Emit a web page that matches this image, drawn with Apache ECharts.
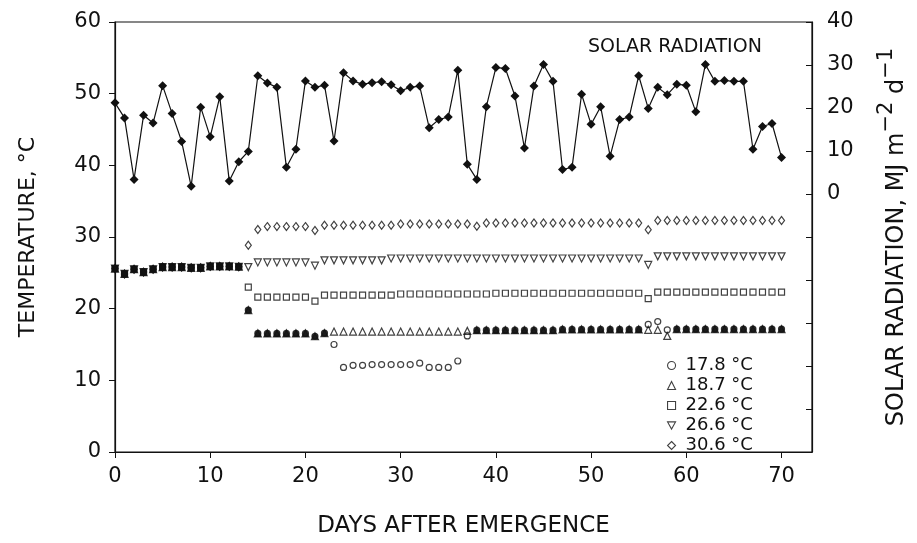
<!DOCTYPE html>
<html>
<head>
<meta charset="utf-8">
<script src="https://cdn.jsdelivr.net/npm/echarts@6/dist/echarts.min.js"></script>
<style>
  html, body { margin: 0; padding: 0; background: #fff; }
  #chart { width: 917px; height: 543px; }
</style>
</head>
<body>
<div id="chart"></div>
<script>
// Days after emergence, 0..70
const days = Array.from({ length: 71 }, (_, i) => i);

// Daily solar radiation, MJ m-2 d-1
const solar = [
  21.2, 17.7, 3.4, 18.3, 16.5, 25.2, 18.7, 12.2, 1.8, 20.2,
  13.3, 22.6, 3.0, 7.5, 9.9, 27.5, 25.8, 24.8, 6.2, 10.4,
  26.3, 24.8, 25.3, 12.3, 28.2, 26.3, 25.5, 25.9, 26.1, 25.4,
  24.0, 24.8, 25.1, 15.4, 17.3, 17.9, 28.8, 6.9, 3.4, 20.3,
  29.4, 29.2, 22.8, 10.7, 25.1, 30.1, 26.2, 5.7, 6.2, 23.2,
  16.2, 20.3, 8.8, 17.3, 17.9, 27.5, 19.9, 24.8, 23.1, 25.5,
  25.3, 19.1, 30.1, 26.2, 26.4, 26.2, 26.2, 10.4, 15.7, 16.4,
  8.5
];

// Common chamber temperature before treatments began (days 0-13)
const common = [25.6, 24.85, 25.5, 25.1, 25.5, 25.8, 25.8, 25.8, 25.7, 25.7, 25.9, 25.9, 25.9, 25.85];

// Daily mean temperature in each treatment, days 14..70
const t178 = [
  19.8, 16.55, 16.55, 16.55, 16.55, 16.55, 16.55, 16.15, 16.6, 15.0,
  11.8, 12.1, 12.1, 12.2, 12.2, 12.2, 12.2, 12.2, 12.4, 11.8,
  11.8, 11.8, 12.7, 16.2, 17.0, 17.0, 17.0, 17.0, 17.0, 17.0,
  17.0, 17.0, 17.0, 17.1, 17.1, 17.1, 17.1, 17.1, 17.1, 17.1,
  17.1, 17.1, 17.8, 18.2, 17.05, 17.15, 17.15, 17.15, 17.15, 17.15,
  17.15, 17.15, 17.15, 17.15, 17.15, 17.15, 17.15
];
const t187 = [
  19.8, 16.55, 16.55, 16.55, 16.55, 16.55, 16.55, 16.15, 16.6, 16.8,
  16.8, 16.8, 16.8, 16.8, 16.8, 16.8, 16.8, 16.8, 16.8, 16.8,
  16.8, 16.8, 16.8, 16.9, 17.0, 17.0, 17.0, 17.0, 17.0, 17.0,
  17.0, 17.0, 17.0, 17.1, 17.1, 17.1, 17.1, 17.1, 17.1, 17.1,
  17.1, 17.1, 17.05, 17.05, 16.2, 17.15, 17.15, 17.15, 17.15, 17.15,
  17.15, 17.15, 17.15, 17.15, 17.15, 17.15, 17.15
];
const t226 = [
  23.0, 21.6, 21.6, 21.6, 21.6, 21.6, 21.6, 21.05, 21.9, 21.9,
  21.9, 21.9, 21.9, 21.9, 21.9, 21.9, 22.05, 22.05, 22.05, 22.05,
  22.05, 22.05, 22.05, 22.05, 22.05, 22.05, 22.15, 22.15, 22.15, 22.15,
  22.15, 22.15, 22.15, 22.15, 22.15, 22.15, 22.15, 22.15, 22.15, 22.15,
  22.15, 22.15, 21.4, 22.3, 22.3, 22.3, 22.3, 22.3, 22.3, 22.3,
  22.3, 22.3, 22.3, 22.3, 22.3, 22.3, 22.3
];
const t266 = [
  25.8, 26.45, 26.45, 26.45, 26.45, 26.45, 26.45, 26.0, 26.75, 26.75,
  26.75, 26.75, 26.75, 26.75, 26.75, 27.0, 27.0, 27.0, 27.0, 27.0,
  27.0, 27.0, 27.0, 27.0, 27.0, 27.0, 27.0, 27.0, 27.0, 27.0,
  27.0, 27.0, 27.0, 27.0, 27.0, 27.0, 27.0, 27.0, 27.0, 27.0,
  27.0, 27.0, 26.1, 27.3, 27.3, 27.3, 27.3, 27.3, 27.3, 27.3,
  27.3, 27.3, 27.3, 27.3, 27.3, 27.3, 27.3
];
const t306 = [
  28.85, 31.05, 31.45, 31.45, 31.45, 31.45, 31.45, 30.9, 31.65, 31.65,
  31.65, 31.65, 31.65, 31.65, 31.65, 31.65, 31.8, 31.8, 31.8, 31.8,
  31.8, 31.8, 31.8, 31.8, 31.5, 31.95, 31.95, 31.95, 31.95, 31.95,
  31.95, 31.95, 31.95, 31.95, 31.95, 31.95, 31.95, 31.95, 31.95, 31.95,
  31.95, 31.95, 31.0, 32.3, 32.3, 32.3, 32.3, 32.3, 32.3, 32.3,
  32.3, 32.3, 32.3, 32.3, 32.3, 32.3, 32.3
];

// Treatment labels and plotting symbols
const treatmentNames = ['17.8 °C', '18.7 °C', '22.6 °C', '26.6 °C', '30.6 °C'];
const treatmentSymbols = ['circle', 'triangle', 'rect', 'path://M0,0 L10,0 L5,9 Z', 'diamond'];
const treatmentSizes = [6, 7, 6, 7, [6, 8]];

// X axis tick positions
const xTicks = [0, 10, 20, 30, 40, 50, 60, 70];

const FONT = 'DejaVu Sans';
const INK = '#111';

const treatments = [t178, t187, t226, t266, t306].map(s => common.concat(s));

// Points shared by several treatments print on top of each other and read as solid marks
function buildData(k) {
  return days.map(d => {
    const v = treatments[k][d];
    const shared = treatments.some((o, j) => j !== k && o[d] === v);
    const item = { value: [d, v] };
    if (shared) item.itemStyle = { color: INK };
    return item;
  });
}

const scatterSeries = treatmentNames.map((name, k) => ({
  name,
  type: 'scatter',
  xAxisIndex: 0,
  yAxisIndex: 0,
  symbol: treatmentSymbols[k],
  symbolSize: treatmentSizes[k],
  itemStyle: { color: 'rgba(255,255,255,0)', borderColor: INK, borderWidth: 1.2 },
  emphasis: { disabled: true },
  data: buildData(k),
  z: 3
}));

const chart = echarts.init(document.getElementById('chart'), null, { renderer: 'canvas' });

chart.setOption({
  animation: false,
  backgroundColor: '#fff',
  textStyle: { fontFamily: FONT, color: INK },
  grid: {
    left: 115, right: 98, top: 22, bottom: 85,
    show: true, borderColor: INK, borderWidth: 1.2, backgroundColor: 'transparent'
  },
  title: {
    text: 'SOLAR RADIATION',
    left: 583, top: 33,
    textStyle: { fontFamily: FONT, fontSize: 19, fontWeight: 'normal', color: INK }
  },
  legend: {
    orient: 'vertical',
    left: 662, top: 351,
    itemWidth: 8, itemHeight: 8,
    itemGap: 1,
    data: treatmentNames.map((n, k) => ({
      name: n,
      icon: treatmentSymbols[k],
      itemStyle: { color: 'rgba(255,255,255,0)', borderColor: INK, borderWidth: 1.1 }
    })),
    textStyle: { fontFamily: FONT, fontSize: 18, color: INK, lineHeight: 19, padding: [0, 0, 0, 5] },
    selectedMode: false
  },
  xAxis: {
    type: 'value',
    min: 0, max: 73.2,
    name: 'DAYS AFTER EMERGENCE',
    nameLocation: 'middle',
    nameGap: 63,
    nameTextStyle: { fontFamily: FONT, fontSize: 23, color: INK },
    axisLine: { show: true, lineStyle: { color: INK, width: 1.2 } },
    axisTick: { show: true, inside: false, length: 6, lineStyle: { color: INK }, customValues: xTicks },
    axisLabel: { fontFamily: FONT, fontSize: 21, color: INK, margin: 14, customValues: xTicks },
    splitLine: { show: false }
  },
  yAxis: [
    {
      type: 'value',
      min: 0, max: 60, interval: 10,
      position: 'left',
      name: 'TEMPERATURE, °C',
      nameLocation: 'middle',
      nameRotate: 90,
      nameGap: 76,
      nameTextStyle: { fontFamily: FONT, fontSize: 22, color: INK },
      axisLine: { show: true, lineStyle: { color: INK, width: 1.2 } },
      axisTick: { show: true, inside: false, length: 6, lineStyle: { color: INK } },
      axisLabel: { fontFamily: FONT, fontSize: 21, color: INK, margin: 14 },
      splitLine: { show: false }
    },
    {
      type: 'value',
      min: -60, max: 40, interval: 10,
      position: 'right',
      name: '{a|SOLAR RADIATION, MJ m}{s|−2}{a| d}{s|−1}',
      nameLocation: 'middle',
      nameRotate: 90,
      nameGap: 64,
      nameTextStyle: {
        fontFamily: FONT, color: INK,
        rich: {
          a: { fontFamily: FONT, fontSize: 24, color: INK, padding: [9, 0, 0, 0], verticalAlign: 'bottom' },
          s: { fontFamily: FONT, fontSize: 21, color: INK, verticalAlign: 'top' }
        }
      },
      axisLine: { show: true, lineStyle: { color: INK, width: 1.2 } },
      axisTick: { show: true, inside: true, length: 6, lineStyle: { color: INK } },
      axisLabel: {
        fontFamily: FONT, fontSize: 21, color: INK, margin: 15,
        formatter: v => (v >= 0 ? String(v) : '')
      },
      splitLine: { show: false }
    }
  ],
  series: [
    {
      name: 'Solar radiation',
      type: 'line',
      xAxisIndex: 0,
      yAxisIndex: 1,
      data: days.map(d => [d, solar[d]]),
      symbol: 'diamond',
      symbolSize: 9,
      showSymbol: true,
      lineStyle: { color: INK, width: 1.2 },
      itemStyle: { color: INK },
      emphasis: { disabled: true },
      z: 4
    },
    ...scatterSeries
  ]
});
</script>
</body>
</html>
